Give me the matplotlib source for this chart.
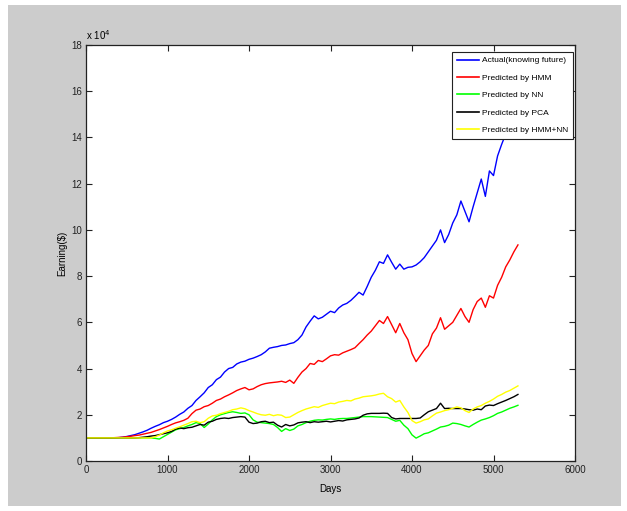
import numpy as np
import matplotlib
matplotlib.use("Agg")
import matplotlib.pyplot as plt
from matplotlib.patches import Rectangle

# Trading days, sampled every 50 days
days = np.arange(0, 5301, 50)

# Cumulative earning in units of 1e4 $
actual = [1.00, 1.00, 1.00, 1.00, 1.00, 1.00, 1.00, 1.00, 1.01, 1.03,
          1.06, 1.10, 1.14, 1.20, 1.26, 1.33, 1.42, 1.50, 1.57, 1.66,
          1.72, 1.80, 1.90, 2.02, 2.12, 2.28, 2.40, 2.62, 2.78, 2.95,
          3.18, 3.30, 3.52, 3.63, 3.85, 4.00, 4.05, 4.20, 4.28, 4.32,
          4.40, 4.45, 4.52, 4.60, 4.72, 4.88, 4.92, 4.95, 5.00, 5.02,
          5.08, 5.12, 5.25, 5.45, 5.80, 6.05, 6.28, 6.15, 6.22, 6.35,
          6.48, 6.42, 6.62, 6.75, 6.82, 6.95, 7.12, 7.30, 7.18, 7.55,
          7.95, 8.25, 8.62, 8.55, 8.92, 8.60, 8.30, 8.52, 8.30, 8.38,
          8.40, 8.48, 8.62, 8.80, 9.05, 9.30, 9.55, 10.00, 9.45, 9.80,
          10.30, 10.65, 11.25, 10.80, 10.35, 11.00, 11.60, 12.20, 11.45, 12.55,
          12.35, 13.20, 13.70, 14.15, 14.60, 15.10, 15.60]

hmm = [1.00, 1.00, 1.00, 1.00, 1.00, 1.00, 1.00, 1.01, 1.02, 1.03,
       1.05, 1.07, 1.10, 1.12, 1.16, 1.20, 1.24, 1.30, 1.36, 1.43,
       1.50, 1.58, 1.65, 1.70, 1.76, 1.85, 2.05, 2.20, 2.25, 2.35,
       2.40, 2.50, 2.62, 2.68, 2.78, 2.86, 2.95, 3.05, 3.12, 3.18,
       3.08, 3.12, 3.22, 3.30, 3.35, 3.38, 3.40, 3.42, 3.45, 3.40,
       3.50, 3.36, 3.62, 3.85, 4.00, 4.22, 4.18, 4.35, 4.30, 4.42,
       4.55, 4.60, 4.58, 4.68, 4.75, 4.82, 4.90, 5.08, 5.25, 5.45,
       5.62, 5.85, 6.08, 5.95, 6.25, 5.90, 5.55, 5.95, 5.55, 5.25,
       4.65, 4.30, 4.55, 4.80, 5.00, 5.50, 5.75, 6.20, 5.70, 5.85,
       6.00, 6.30, 6.60, 6.25, 6.00, 6.55, 6.90, 7.05, 6.65, 7.15,
       7.05, 7.60, 7.95, 8.40, 8.70, 9.05, 9.35]

nn = [1.00, 1.00, 1.00, 1.00, 1.00, 1.00, 1.00, 1.00, 1.00, 1.00,
      1.00, 1.00, 1.00, 1.00, 1.00, 1.00, 1.00, 0.98, 0.95, 1.05,
      1.15, 1.25, 1.35, 1.40, 1.45, 1.52, 1.58, 1.66, 1.62, 1.45,
      1.60, 1.78, 1.92, 2.00, 2.05, 2.10, 2.13, 2.10, 2.06, 2.08,
      2.00, 1.78, 1.68, 1.66, 1.64, 1.62, 1.58, 1.45, 1.28, 1.40,
      1.32, 1.38, 1.52, 1.58, 1.66, 1.72, 1.76, 1.78, 1.77, 1.80,
      1.82, 1.80, 1.83, 1.84, 1.84, 1.86, 1.88, 1.90, 1.92, 1.92,
      1.92, 1.91, 1.90, 1.89, 1.88, 1.80, 1.72, 1.76, 1.55, 1.40,
      1.13, 0.99, 1.08, 1.18, 1.22, 1.30, 1.38, 1.47, 1.50, 1.55,
      1.64, 1.62, 1.58, 1.52, 1.47, 1.58, 1.68, 1.77, 1.82, 1.88,
      1.96, 2.06, 2.12, 2.20, 2.28, 2.34, 2.41]

pca = [1.00, 1.00, 1.00, 1.00, 1.00, 1.00, 1.00, 1.00, 1.00, 1.00,
       1.00, 1.00, 1.00, 1.01, 1.03, 1.05, 1.08, 1.10, 1.14, 1.18,
       1.22, 1.28, 1.38, 1.43, 1.40, 1.44, 1.46, 1.52, 1.58, 1.55,
       1.68, 1.72, 1.80, 1.84, 1.86, 1.84, 1.88, 1.90, 1.92, 1.90,
       1.68, 1.62, 1.64, 1.70, 1.72, 1.66, 1.68, 1.55, 1.47, 1.58,
       1.52, 1.56, 1.65, 1.68, 1.70, 1.66, 1.70, 1.68, 1.70, 1.72,
       1.69, 1.72, 1.75, 1.73, 1.78, 1.80, 1.82, 1.86, 1.98, 2.04,
       2.06, 2.06, 2.06, 2.07, 2.06, 1.88, 1.82, 1.84, 1.84, 1.84,
       1.84, 1.84, 1.86, 2.00, 2.13, 2.20, 2.27, 2.50, 2.27, 2.28,
       2.27, 2.27, 2.27, 2.25, 2.22, 2.20, 2.25, 2.22, 2.38, 2.42,
       2.40, 2.48, 2.55, 2.62, 2.70, 2.78, 2.88]

hmm_nn = [1.00, 1.00, 1.00, 1.00, 1.00, 1.00, 1.00, 1.00, 1.00, 1.00,
          1.00, 1.00, 1.00, 1.00, 1.00, 1.00, 1.00, 1.05, 1.12, 1.22,
          1.30, 1.35, 1.42, 1.48, 1.55, 1.62, 1.70, 1.72, 1.66, 1.70,
          1.85, 1.95, 1.98, 2.05, 2.10, 2.15, 2.22, 2.25, 2.30, 2.26,
          2.18, 2.12, 2.05, 2.00, 1.98, 2.02, 1.96, 2.00, 1.98, 1.88,
          1.90, 2.00, 2.10, 2.18, 2.25, 2.30, 2.35, 2.32, 2.40, 2.45,
          2.50, 2.48, 2.55, 2.58, 2.62, 2.60, 2.68, 2.72, 2.78, 2.80,
          2.82, 2.85, 2.90, 2.93, 2.78, 2.70, 2.55, 2.62, 2.34, 2.10,
          1.75, 1.64, 1.70, 1.78, 1.82, 1.95, 2.07, 2.12, 2.18, 2.22,
          2.28, 2.34, 2.30, 2.18, 2.10, 2.25, 2.34, 2.40, 2.50, 2.58,
          2.68, 2.80, 2.88, 2.98, 3.05, 3.15, 3.25]

series_labels = ["Actual(knowing future)", "Predicted by HMM", "Predicted by NN",
                 "Predicted by PCA", "Predicted by HMM+NN"]
series_colors = ["#0000ff", "#ff0000", "#00ff00", "#000000", "#ffff00"]

xticks = [0, 1000, 2000, 3000, 4000, 5000, 6000]
yticks = [0, 2, 4, 6, 8, 10, 12, 14, 16, 18]

plt.rcParams["font.family"] = ["Liberation Sans Narrow", "Liberation Sans", "DejaVu Sans"]

W, H = 627, 511
fig = plt.figure(figsize=(W / 100, H / 100), dpi=100, facecolor="white")
fig.patches.append(Rectangle((8 / W, 5 / H), (621 - 8) / W, (506 - 5) / H,
                             transform=fig.transFigure, facecolor="#cccccc",
                             edgecolor="none", zorder=-10))

ax = fig.add_axes([86 / W, (H - 461) / H, (575 - 86) / W, (461 - 45) / H])
ax.set_zorder(1)
ax.set_facecolor("white")

scale = 1e4
for vals, lab, col in zip([actual, hmm, nn, pca, hmm_nn], series_labels, series_colors):
    ax.plot(days, np.asarray(vals) * scale, color=col, lw=1.0, label=lab)

ax.set_xlim(0, 6000)
ax.set_ylim(0, 18e4)
ax.set_xticks(xticks)
ax.set_xticklabels([str(t) for t in xticks])
ax.set_yticks([t * scale for t in yticks])
ax.set_yticklabels([str(t) for t in yticks])
ax.tick_params(direction="in", length=4, width=0.8, top=True, right=True,
               labelsize=7, pad=3, colors="#222222")
for s in ax.spines.values():
    s.set_linewidth(0.9)
    s.set_color("#222222")

ax.set_xlabel("Days", fontsize=7, labelpad=6)
ax.set_ylabel("Earning($)", fontsize=7, labelpad=3)
ax.text(0.0, 1.008, r"x 10$^{4}$", transform=ax.transAxes, fontsize=7,
        ha="left", va="bottom")

leg = ax.legend(loc="upper right", bbox_to_anchor=(0.995, 0.983), fontsize=6,
                frameon=True, fancybox=False, framealpha=1.0, borderpad=0.55,
                handlelength=2.6, handletextpad=0.4, labelspacing=1.15,
                borderaxespad=0.0)
leg.get_frame().set_edgecolor("#222222")
leg.get_frame().set_linewidth(0.8)
for line in leg.get_lines():
    line.set_linewidth(1.2)

fig.savefig("out.png", dpi=100, facecolor="white")
